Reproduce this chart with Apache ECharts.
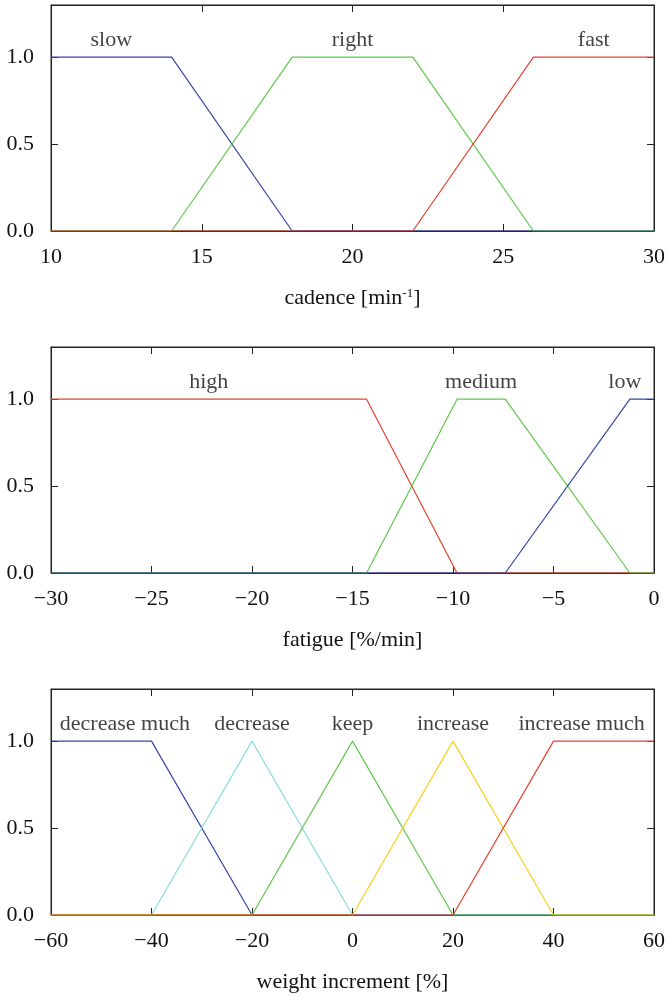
<!DOCTYPE html>
<html>
<head>
<meta charset="utf-8">
<script src="https://cdn.jsdelivr.net/npm/echarts@6/dist/echarts.min.js"></script>
<style>
html,body{margin:0;padding:0;background:#fff;}
#chart{width:668px;height:997px;}
</style>
</head>
<body>
<div id="chart"></div>
<script>
// ---- Panel 1: cadence ----
const cadenceSlow  = [[10,1],[14,1],[18,0],[30,0]];
const cadenceRight = [[10,0],[14,0],[18,1],[22,1],[26,0],[30,0]];
const cadenceFast  = [[10,0],[22,0],[26,1],[30,1]];
const cadenceLabels = ['slow','right','fast'];
const cadenceLabelX = [12, 20, 28];

// ---- Panel 2: fatigue ----
const fatigueHigh   = [[-30,1],[-14.3,1],[-9.8,0],[0,0]];
const fatigueMedium = [[-30,0],[-14.3,0],[-9.8,1],[-7.4,1],[-1.2,0],[0,0]];
const fatigueLow    = [[-30,0],[-7.4,0],[-1.2,1],[0,1]];
const fatigueLabels = ['high','medium','low'];
const fatigueLabelX = [-22.15, -8.6, -1.45];

// ---- Panel 3: weight increment ----
const weightDecMuch = [[-60,1],[-40,1],[-20,0],[60,0]];
const weightDec     = [[-60,0],[-40,0],[-20,1],[0,0],[60,0]];
const weightKeep    = [[-60,0],[-20,0],[0,1],[20,0],[60,0]];
const weightInc     = [[-60,0],[0,0],[20,1],[40,0],[60,0]];
const weightIncMuch = [[-60,0],[20,0],[40,1],[60,1]];
const weightLabels = ['decrease much','decrease','keep','increase','increase much'];
const weightLabelX = [-45.3, -20, 0, 20, 45.6];

const labelY = 1.1;
const yTicks = [0, 0.5, 1.0];

const C = {blue:'#3446a6', green:'#5fc84c', red:'#e5402f', cyan:'#88dfda', yellow:'#f6d21e'};
const FONT = '"Liberation Serif", "DejaVu Serif", serif';
const TXT = '#111';
const FS = 22;

const panels = [
  {min:10, max:30, interval:5, name:'cadence [min{sup|-1}]',
   series:[[cadenceSlow,C.blue],[cadenceRight,C.green],[cadenceFast,C.red]],
   labels:cadenceLabels, labelX:cadenceLabelX},
  {min:-30, max:0, interval:5, name:'fatigue [%/min]',
   series:[[fatigueHigh,C.red],[fatigueMedium,C.green],[fatigueLow,C.blue]],
   labels:fatigueLabels, labelX:fatigueLabelX},
  {min:-60, max:60, interval:20, name:'weight increment [%]',
   series:[[weightDecMuch,C.blue],[weightDec,C.cyan],[weightKeep,C.green],[weightInc,C.yellow],[weightIncMuch,C.red]],
   labels:weightLabels, labelX:weightLabelX}
];

const gridTops = [5, 347, 689];
const grid = [], xAxis = [], yAxis = [], series = [];
const fmtNum = v => String(v).replace('-', '\u2212');

panels.forEach((p, i) => {
  grid.push({left:51, right:14, top:gridTops[i], height:226, show:true,
             borderColor:'#222', borderWidth:1, backgroundColor:'transparent'});
  const xBase = {gridIndex:i, type:'value', min:p.min, max:p.max, interval:p.interval,
                 splitLine:{show:false},
                 axisLine:{show:true, onZero:false, lineStyle:{color:'#222', width:1}},
                 axisTick:{show:true, inside:true, length:7, lineStyle:{color:'#222'}}};
  xAxis.push(Object.assign({}, xBase, {position:'bottom',
    axisLabel:{show:true, margin:15, color:TXT, fontFamily:FONT, fontSize:FS, formatter:fmtNum},
    name:p.name, nameLocation:'middle', nameGap:56,
    nameTextStyle:{color:TXT, fontFamily:FONT, fontSize:FS,
      rich:{sup:{fontSize:13, fontFamily:FONT, color:TXT, verticalAlign:'top', lineHeight:22}}}}));
  xAxis.push(Object.assign({}, xBase, {position:'top', axisLabel:{show:false}}));
  const yBase = {gridIndex:i, type:'value', min:0, max:1.3,
                 splitLine:{show:false},
                 axisLine:{show:true, onZero:false, lineStyle:{color:'#222', width:1}},
                 axisTick:{show:true, inside:true, length:7, customValues:yTicks, lineStyle:{color:'#222'}}};
  yAxis.push(Object.assign({}, yBase, {position:'left',
    axisLabel:{show:true, margin:17, color:TXT, fontFamily:FONT, fontSize:FS,
               customValues:yTicks, formatter:v => v.toFixed(1)}}));
  yAxis.push(Object.assign({}, yBase, {position:'right', axisLabel:{show:false}}));

  p.series.forEach(([data, color]) => {
    series.push({type:'line', xAxisIndex:2*i, yAxisIndex:2*i, data:data,
                 symbol:'none', silent:true,
                 lineStyle:{color:color, width:1.2}, itemStyle:{color:color}});
  });
  series.push({type:'scatter', xAxisIndex:2*i, yAxisIndex:2*i, symbolSize:0, silent:true,
    data:p.labels.map((t, k) => ({name:t, value:[p.labelX[k], labelY]})),
    label:{show:true, position:'inside', formatter:'{b}', color:TXT, fontFamily:FONT, fontSize:FS}});
});

const chart = echarts.init(document.getElementById('chart'), null, {renderer:'canvas'});
chart.setOption({animation:false, backgroundColor:'#fff', grid, xAxis, yAxis, series});
</script>
</body>
</html>
